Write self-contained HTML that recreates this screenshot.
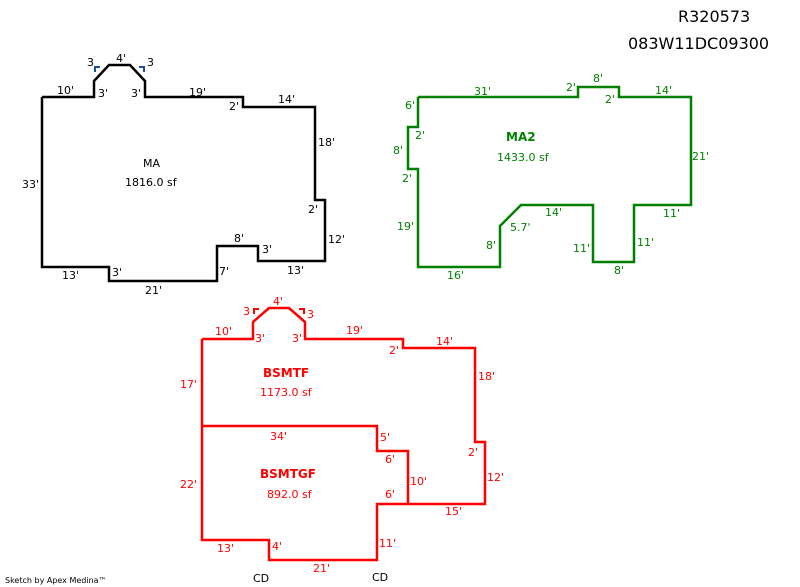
<!DOCTYPE html>
<html><head><meta charset="utf-8"><style>
html,body{margin:0;padding:0;background:#fff;}
svg{display:block}
text{font-family:"DejaVu Sans","Liberation Sans",sans-serif;font-size:11px}
.b text{fill:#000}.g text{fill:#008000}.r text{fill:#f00}
</style></head><body>
<svg width="800" height="587" viewBox="0 0 800 587" xmlns="http://www.w3.org/2000/svg">
<text x="678" y="22" style="font-size:16px">R320573</text>
<text x="628" y="49" style="font-size:16px">083W11DC09300</text>

<!-- MA -->
<polyline fill="none" stroke="#000" stroke-width="2.5" points="42,97 94,97 94,81 109,65 130,65 145,81 145,97 243,97 243,107 315,107 315,200 325,200 325,261 258,261 258,246 217,246 217,281 109,281 109,267 42,267 42,97"/>
<path d="M95,72 V67 H100 M144,72 V67 H139" fill="none" stroke="#1f4e9a" stroke-width="2"/>
<g class="b">
<text x="87" y="66">3</text><text x="116" y="62">4'</text><text x="147" y="66">3</text>
<text x="57" y="94">10'</text><text x="98" y="97">3'</text><text x="131" y="97">3'</text>
<text x="189" y="96">19'</text><text x="229" y="110">2'</text><text x="278" y="103">14'</text>
<text x="318" y="146">18'</text><text x="308" y="213">2'</text><text x="328" y="243">12'</text>
<text x="234" y="242">8'</text><text x="262" y="253">3'</text><text x="287" y="274">13'</text>
<text x="219" y="275">7'</text><text x="145" y="294">21'</text><text x="112" y="276">3'</text>
<text x="62" y="279">13'</text><text x="22" y="188">33'</text>
<text x="143" y="167">MA</text><text x="125" y="186">1816.0 sf</text>
</g>

<!-- MA2 -->
<polyline fill="none" stroke="#008000" stroke-width="2.5" points="418,97 578,97 578,87 619,87 619,97 691,97 691,205 634,205 634,262 593,262 593,205 521,205 500,226 500,267 418,267 418,169 408,169 408,127 418,127 418,97"/>
<g class="g">
<text x="474" y="95">31'</text><text x="566" y="91">2'</text><text x="593" y="82">8'</text>
<text x="605" y="103">2'</text><text x="655" y="94">14'</text><text x="405" y="109">6'</text>
<text x="415" y="139">2'</text><text x="393" y="154">8'</text><text x="402" y="182">2'</text>
<text x="397" y="230">19'</text><text x="447" y="279">16'</text><text x="486" y="249">8'</text>
<text x="510" y="231">5.7'</text><text x="545" y="216">14'</text><text x="573" y="252">11'</text>
<text x="614" y="274">8'</text><text x="637" y="246">11'</text><text x="663" y="217">11'</text>
<text x="692" y="160">21'</text>
<text x="506" y="141" style="font-weight:bold;font-size:12px">MA2</text><text x="497" y="161">1433.0 sf</text>
</g>

<!-- BSMT -->
<polyline fill="none" stroke="#f00" stroke-width="2.5" points="202,339 253,339 253,322 269,308 289,308 305,322 305,339 403,339 403,348 475,348 475,442 485,442 485,504 377,504 377,560 269,560 269,540 202,540 202,339"/>
<polyline fill="none" stroke="#f00" stroke-width="2.5" points="202,426 377,426 377,451 408,451 408,504"/>
<path d="M254,314 V309 H259 M304,314 V309 H299" fill="none" stroke="#f00" stroke-width="2"/>
<g class="r">
<text x="243" y="315">3</text><text x="273" y="305">4'</text><text x="307" y="318">3</text>
<text x="215" y="335">10'</text><text x="255" y="342">3'</text><text x="292" y="342">3'</text>
<text x="346" y="334">19'</text><text x="389" y="354">2'</text><text x="436" y="345">14'</text>
<text x="478" y="380">18'</text><text x="180" y="388">17'</text>
<text x="270" y="440">34'</text><text x="380" y="441">5'</text><text x="385" y="463">6'</text>
<text x="410" y="485">10'</text><text x="385" y="498">6'</text><text x="468" y="456">2'</text>
<text x="487" y="481">12'</text><text x="445" y="515">15'</text><text x="180" y="488">22'</text>
<text x="217" y="552">13'</text><text x="272" y="550">4'</text><text x="379" y="547">11'</text>
<text x="313" y="572">21'</text>
<text x="263" y="377" style="font-weight:bold;font-size:12px">BSMTF</text><text x="260" y="396">1173.0 sf</text>
<text x="260" y="478" style="font-weight:bold;font-size:12px">BSMTGF</text><text x="267" y="498">892.0 sf</text>
</g>
<text x="253" y="582" fill="#000">CD</text><text x="372" y="581" fill="#000">CD</text>
<text x="5" y="583" fill="#000" style="font-size:8px">Sketch by Apex Medina™</text>
</svg>
</body></html>
